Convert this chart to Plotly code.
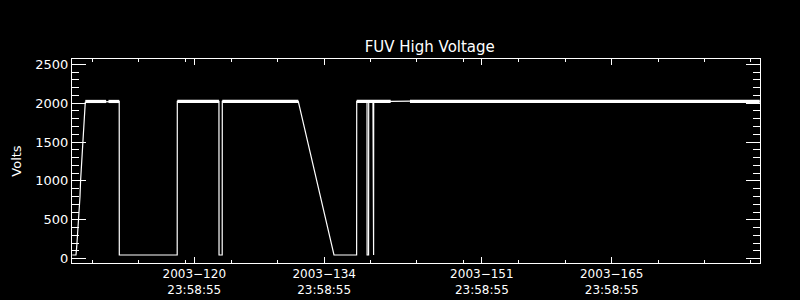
import plotly.graph_objects as go

# Time axis: fractional day-of-year 2003
days = [107.85, 108.25, 108.33, 108.46, 108.54, 108.68, 108.75, 108.89, 108.97,
        109.11, 109.18, 109.25, 112.91, 112.92, 119.16, 119.17, 123.66, 123.67,
        124.01, 124.02, 132.21, 136.06, 138.50, 138.51, 139.62, 139.63, 139.79,
        139.80, 140.26, 140.27, 140.33, 140.34, 142.17, 144.25, 181.95]
volts = [47, 47, 154, 369, 583, 797, 1012, 1269, 1484,
         1698, 1912, 2010, 2022, 47, 47, 2022, 2022, 47,
         47, 2022, 2022, 47, 47, 2022, 2022, 47, 47,
         2022, 2022, 47, 47, 2022, 2022, 2025, 2022]

# Noisy high-voltage plateaus (drawn as a thicker band)
plateau_start = [109.25, 111.75, 119.17, 124.02, 138.51, 144.25]
plateau_end = [111.50, 112.91, 123.66, 132.21, 142.17, 181.95]
plateau_volts = [2022, 2022, 2022, 2022, 2022, 2022]

major_ticks = [120.99925, 134.99925, 151.99925, 165.99925]
major_text = ["2003\u2212120<br>23:58:55", "2003\u2212134<br>23:58:55",
              "2003\u2212151<br>23:58:55", "2003\u2212165<br>23:58:55"]
minor_ticks = [110, 115, 120, 125, 130, 135, 140, 145, 150, 156, 161, 166, 171, 176, 181]
y_ticks = [0, 500, 1000, 1500, 2000, 2500]

bx, by = [], []
for s, e, v in zip(plateau_start, plateau_end, plateau_volts):
    bx += [s, e, None]
    by += [v, v, None]

fig = go.Figure()
fig.add_trace(go.Scatter(x=days, y=volts, mode="lines",
                         line=dict(color="white", width=1.2), showlegend=False))
fig.add_trace(go.Scatter(x=bx, y=by, mode="lines",
                         line=dict(color="white", width=3.2), showlegend=False))

font = dict(family="DejaVu Sans", size=13, color="white")
xfont = dict(family="DejaVu Sans", size=12, color="white")
fig.update_layout(
    width=800, height=300,
    paper_bgcolor="black", plot_bgcolor="black",
    margin=dict(l=72, r=40, t=59, b=37),
    font=font,
    title=dict(text="FUV High Voltage", x=416/800, xanchor="center", xref="paper",
               y=1 - 46.7/300, yref="container", yanchor="middle",
               font=dict(family="DejaVu Sans", size=15, color="white")),
    xaxis=dict(range=[107.82, 181.98], showline=True, linecolor="white", linewidth=1,
               mirror="ticks", ticks="inside", ticklen=6, tickcolor="white", tickwidth=1,
               tickvals=major_ticks, ticktext=major_text, showgrid=False, zeroline=False,
               automargin=False,
               minor=dict(tickmode="array", tickvals=minor_ticks, ticks="inside",
                          ticklen=3, tickcolor="white", showgrid=False),
               tickfont=xfont),
    yaxis=dict(range=[-56, 2568], showline=True, linecolor="white", linewidth=1,
               mirror="ticks", ticks="inside", ticklen=14, tickcolor="white", tickwidth=1,
               tickvals=y_ticks, showgrid=False, zeroline=False, automargin=False,
               minor=dict(dtick=100, ticks="inside", ticklen=7, tickcolor="white",
                          showgrid=False),
               title=dict(text="Volts", standoff=10, font=font),
               tickfont=font),
)

fig.write_html("out.html")
